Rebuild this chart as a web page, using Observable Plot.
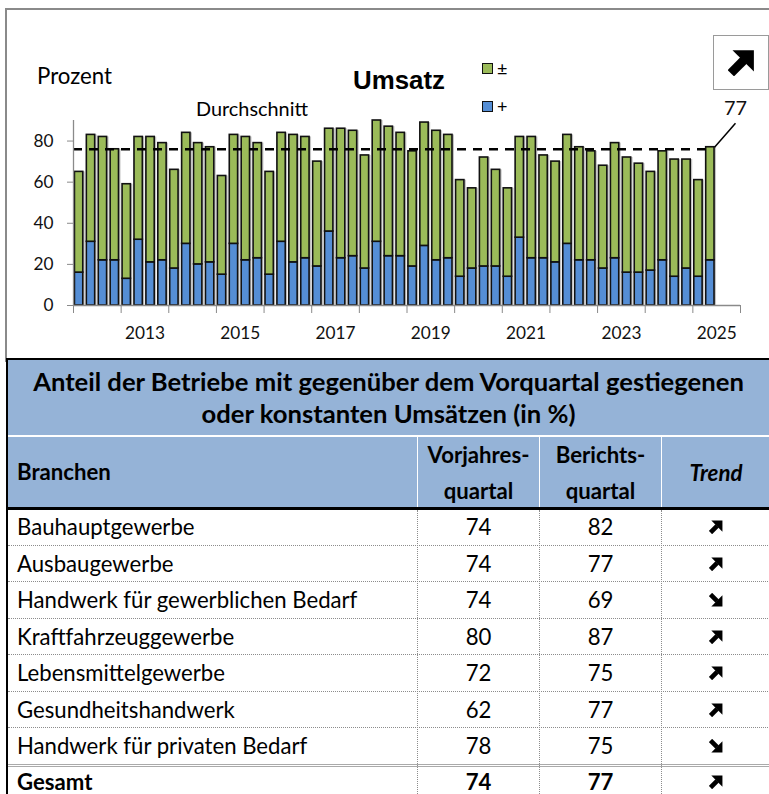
<!DOCTYPE html>
<html><head><meta charset="utf-8">
<script src="https://cdn.jsdelivr.net/npm/d3@7"></script>
<script src="https://cdn.jsdelivr.net/npm/@observablehq/plot@0.6"></script>
<style>
body{margin:0;background:#fff;}
#root{position:relative;width:769px;height:794px;overflow:hidden;font-family:Lato,sans-serif;color:#000;background:#fff;}
</style></head><body><div id="root"></div>
<script>
// ---------- data ----------
const startYear = 2012;
const plus  = [16,31,22,22, 13,32,21,22, 18,30,20,21, 15,30,22,23, 15,31,21,23, 19,36,23,24, 18,31,24,24, 19,29,22,23, 14,18,19,19, 14,33,23,23, 21,30,22,22, 18,23,16,16, 17,22,14,18, 14,22];
const equal = [49,52,60,54, 46,50,61,57, 48,54,59,56, 48,53,60,56, 50,53,62,59, 51,50,63,61, 55,59,63,60, 56,60,63,60, 47,39,53,47, 43,49,59,50, 49,53,55,53, 50,56,56,53, 48,53,57,53, 47,55];
const average = 76;
const yTicks = [0,20,40,60,80];
const yearTicks = [2012,2013,2014,2015,2016,2017,2018,2019,2020,2021,2022,2023,2024,2025,2026];
const yearLabels = [2013,2015,2017,2019,2021,2023,2025];
const seriesNames = ["±","+"];
const colors = {"±":"#9BBB59","+":"#558ED5"};

const branchen = ["Bauhauptgewerbe","Ausbaugewerbe","Handwerk für gewerblichen Bedarf","Kraftfahrzeuggewerbe","Lebensmittelgewerbe","Gesundheitshandwerk","Handwerk für privaten Bedarf"];
const vorjahr  = [74,74,74,80,72,62,78];
const bericht  = [82,77,69,87,75,77,75];
const gesamt   = {name:"Gesamt", vorjahr:74, bericht:77};

// ---------- helpers ----------
const ctx = document.createElement("canvas").getContext("2d");
function fit(text, target, weight="normal", style="normal", family="Lato"){
  ctx.font = `${style} ${weight} 100px ${family}`;
  return 100*target/ctx.measureText(text).width;
}
function arrowSVG(size, up){
  const rot = up ? "" : 'transform="rotate(90 12 12)"';
  return `<svg width="${size}" height="${size}" viewBox="0 0 24 24"><g ${rot}>
    <line x1="2.5" y1="21.5" x2="14" y2="10" stroke="#000" stroke-width="8"/>
    <polygon points="23,1 23,20 4,1" fill="#000"/></g></svg>`;
}
const root = document.getElementById("root");
function addDiv(html, css){ const d=document.createElement("div"); d.innerHTML=html; d.style.cssText=css; root.appendChild(d); return d; }

// ---------- chart ----------
const data = plus.map((p,i)=>({t:startYear+i/4, plus:p, equal:equal[i], total:p+equal[i]}));
const last = data[data.length-1];
const axisFs = fit("2013", 40);
const labFs = fit("Durchschnitt", 112);

addDiv("", "position:absolute;left:5px;top:8px;width:780px;height:352px;border-left:2px solid #8a8a8a;border-top:2px solid #8a8a8a;");

const chart = Plot.plot({
  width:769, height:350,
  marginLeft:73, marginRight:29, marginTop:120, marginBottom:45,
  x:{domain:[2012,2026], axis:null},
  y:{domain:[0,90], axis:null},
  style:{fontFamily:"Lato", fontSize:axisFs+"px", color:"#111", background:"transparent"},
  marks:[
    Plot.rect(data,{x1:d=>d.t+0.03, x2:d=>d.t+0.205, y1:0, y2:"total", fill:"#c4c4c4", dx:2}),
    Plot.rect(data,{x1:d=>d.t+0.03, x2:d=>d.t+0.205, y1:0, y2:"plus", fill:colors["+"], stroke:"#111", strokeWidth:1.6}),
    Plot.rect(data,{x1:d=>d.t+0.03, x2:d=>d.t+0.205, y1:"plus", y2:"total", fill:colors["±"], stroke:"#111", strokeWidth:1.6}),
    Plot.ruleY([average],{x1:startYear, x2:last.t+0.03, stroke:"#000", strokeWidth:2.6, strokeDasharray:"9,7"}),
    Plot.ruleY([0],{stroke:"#8a8a8a", strokeWidth:1.3}),
    Plot.ruleX([startYear],{y1:0, y2:90, stroke:"#8a8a8a", strokeWidth:1.3}),
    Plot.axisY(yTicks,{anchor:"left", tickSize:6, tickPadding:14, stroke:"#8a8a8a", fontSize:axisFs}),
    Plot.axisX(yearTicks,{anchor:"bottom", tickSize:8, tickFormat:()=>"", stroke:"#8a8a8a"}),
    Plot.axisX(yearLabels.map(y=>y+0.5),{anchor:"bottom", tickSize:0, tickPadding:21, tickFormat:d=>String(d-0.5), fontSize:axisFs}),
    Plot.link([last],{x1:d=>d.t+0.205, y1:"total", x2:d=>d.t+0.645, y2:d=>d.total+11.7, stroke:"#000", strokeWidth:1.5}),
    Plot.text([last],{x:d=>d.t+0.645, y:d=>d.total+11.7, dy:-15, text:d=>String(d.total), fontSize:labFs})
  ]
});
chart.style.position="absolute"; chart.style.left="0px"; chart.style.top="0px";
root.appendChild(chart);

// titles / labels
addDiv("Prozent", `position:absolute;white-space:nowrap;left:37px;top:75px;transform:translateY(-50%);font-size:${fit("Prozent",75)}px;`);
addDiv("Umsatz", `position:absolute;white-space:nowrap;left:353px;top:80px;transform:translateY(-50%);font-family:'Liberation Sans',Arial,sans-serif;font-weight:bold;font-size:${fit("Umsatz",92,"bold","normal","Liberation Sans")}px;`);
addDiv("Durchschnitt", `position:absolute;white-space:nowrap;left:196px;top:108px;transform:translateY(-50%);font-size:${labFs}px;`);
// legend
[["±",68],["+",106]].forEach(([k,y])=>{
  addDiv("", `position:absolute;left:482px;top:${y-5}px;width:9px;height:9px;background:${colors[k]};border:1.3px solid #111;`);
  addDiv(k, `position:absolute;white-space:nowrap;left:497px;top:${y}px;transform:translateY(-50%);font-size:18px;`);
});
// trend box
addDiv(arrowSVG(27,true), "position:absolute;left:713px;top:35px;width:54px;height:53px;border:1.5px solid #9a9a9a;background:#fff;display:flex;align-items:center;justify-content:center;");

// ---------- table ----------
const hdrBg="#95B3D7";
const titleFs = fit("Anteil der Betriebe mit gegenüber dem Vorquartal gestiegenen",713,"bold");
const rowFs = fit("Handwerk für gewerblichen Bedarf",341);
const hdrFs = fit("Vorjahres-",102,"bold");
const trendFs = fit("Trend",53,"bold","italic");
addDiv("", "position:absolute;left:6px;top:358px;width:770px;height:2.5px;background:#000;");
addDiv("Anteil der Betriebe mit gegenüber dem Vorquartal gestiegenen<br>oder konstanten Umsätzen (in %)",
  `position:absolute;left:8px;top:360px;width:761px;height:75px;background:${hdrBg};text-align:center;font-weight:bold;font-size:${titleFs}px;line-height:32px;padding-top:5px;box-sizing:border-box;white-space:nowrap;`);
const cols = [[8,409],[418,121],[540,121],[662,110]];
cols.forEach(([x,w])=>addDiv("", `position:absolute;left:${x}px;top:437px;width:${w}px;height:71px;background:${hdrBg};`));
addDiv("Branchen", `position:absolute;white-space:nowrap;left:17px;top:471px;transform:translateY(-50%);font-weight:bold;font-size:${hdrFs}px;`);
addDiv("Vorjahres-<br>quartal", `position:absolute;white-space:nowrap;left:418px;width:121px;top:473px;transform:translateY(-50%);text-align:center;font-weight:bold;font-size:${hdrFs}px;line-height:36px;`);
addDiv("Berichts-<br>quartal", `position:absolute;white-space:nowrap;left:540px;width:121px;top:473px;transform:translateY(-50%);text-align:center;font-weight:bold;font-size:${hdrFs}px;line-height:36px;`);
addDiv("Trend", `position:absolute;white-space:nowrap;left:662px;width:108px;top:472px;transform:translateY(-50%);text-align:center;font-weight:bold;font-style:italic;font-size:${trendFs}px;`);
addDiv("", "position:absolute;left:6px;top:507px;width:770px;height:3px;background:#000;");

const rowH = 36.5, row0 = 509;
const rows = branchen.map((b,i)=>({name:b, vorjahr:vorjahr[i], bericht:bericht[i], bold:false}));
rows.push({...gesamt, bold:true});
rows.forEach((r,i)=>{
  const y = row0 + i*rowH;
  const c = Math.min(y + rowH/2, 782);
  const fw = r.bold ? "bold" : "normal";
  const base = `position:absolute;white-space:nowrap;top:${c}px;transform:translateY(-50%);font-size:${rowFs}px;font-weight:${fw};line-height:1;`;
  addDiv(r.name, base + "left:17px;");
  addDiv(String(r.vorjahr), base + "left:418px;width:121px;text-align:center;");
  addDiv(String(r.bericht), base + "left:540px;width:121px;text-align:center;");
  addDiv(arrowSVG(14, r.bericht>=r.vorjahr), `position:absolute;left:662px;width:108px;top:${c-7}px;height:14px;display:flex;justify-content:center;`);
  if(i < rows.length-1){
    const sep = (i === rows.length-2)
      ? `border-top:1px solid #aaa;border-bottom:1px solid #aaa;height:1px;`
      : `border-top:1px dotted #8c8c8c;height:0;`;
    addDiv("", `position:absolute;left:8px;top:${y+rowH-1}px;width:770px;${sep}`);
  }
});
[417,539,661].forEach(x=>addDiv("", `position:absolute;left:${x}px;top:510px;height:290px;border-left:1px dotted #8c8c8c;`));
addDiv("", "position:absolute;left:6px;top:358px;width:2px;height:440px;background:#000;");
</script></body></html>
